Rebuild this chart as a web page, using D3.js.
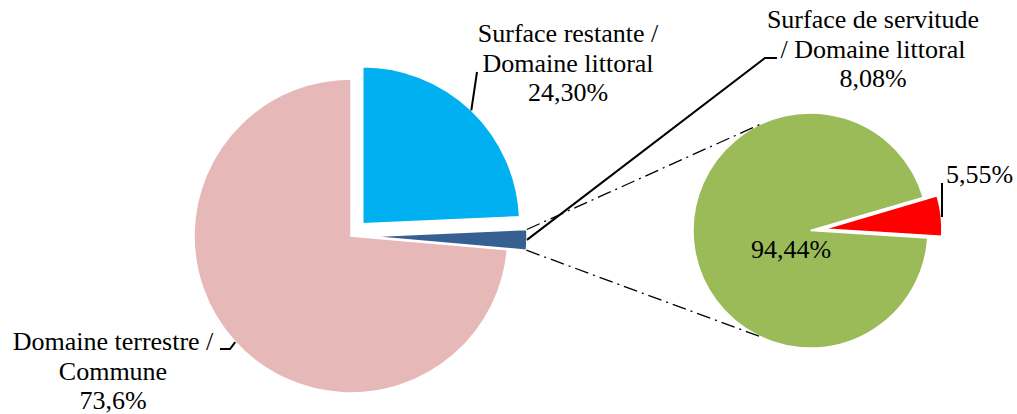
<!DOCTYPE html>
<html>
<head>
<meta charset="utf-8">
<script src="https://cdn.jsdelivr.net/npm/d3@7"></script>
<style>
  html, body { margin: 0; padding: 0; background: #fff; }
</style>
</head>
<body>
<div id="chart"></div>
<script>
// main pie (clockwise from 12 o'clock)
const mainNames = ["Surface restante / Domaine littoral", "Surface de servitude / Domaine littoral", "Domaine terrestre / Commune"];
const mainValues = [24.30, 2.1, 73.6];
const mainColors = ["#00B0F0", "#376092", "#E6B9B8"];
const mainLabels = [
    ["Surface restante /", "Domaine littoral", "24,30%"],
    ["Surface de servitude", "/ Domaine littoral", "8,08%"],
    ["Domaine terrestre /", "Commune", "73,6%"]
];

// secondary pie (breakdown of the servitude slice)
const subNames = ["vert", "rouge"];
const subValues = [94.44, 5.55];
const subColors = ["#9BBB59", "#FF0000"];
const subLabels = ["94,44%", "5,55%"];

const width = 1017, height = 414;
const rad = Math.PI / 180;
const FONT = "'Liberation Serif', 'DejaVu Serif', serif";

const svg = d3.select("#chart").append("svg")
    .attr("width", width)
    .attr("height", height);

// point on a circle, angle clockwise from 12 o'clock (radians)
function polar(c, r, a) {
    return [c[0] + r * Math.sin(a), c[1] - r * Math.cos(a)];
}

// --- main pie ---
const mainC = [351, 236], mainR = 157;
const mainExplode = [17, 19, 0];
const mainArcs = d3.pie().sort(null).startAngle(0)(mainValues);
const arcMain = d3.arc().innerRadius(0).outerRadius(mainR);

mainArcs.forEach((d, i) => {
    const mid = (d.startAngle + d.endAngle) / 2;
    d.center = polar(mainC, mainExplode[i], mid);
    d.mid = mid;
});

svg.append("g").selectAll("path")
    .data(mainArcs)
    .join("path")
    .attr("transform", d => `translate(${d.center[0]},${d.center[1]})`)
    .attr("d", arcMain)
    .attr("fill", (d, i) => mainColors[i])
    .attr("stroke", "#fff")
    .attr("stroke-width", 1.5);

// --- secondary pie ---
const subC = [810.5, 230.5], subR = 117.5;
const subExplode = [0, 14];
const subArcs = d3.pie().sort(null).startAngle(93.6 * rad).endAngle(93.6 * rad + 2 * Math.PI)(subValues);
const arcSub = d3.arc().innerRadius(0).outerRadius(subR);

subArcs.forEach((d, i) => {
    const mid = (d.startAngle + d.endAngle) / 2;
    d.center = polar(subC, subExplode[i], mid);
    d.mid = mid;
});

svg.append("g").selectAll("path")
    .data(subArcs)
    .join("path")
    .attr("transform", d => `translate(${d.center[0]},${d.center[1]})`)
    .attr("d", arcSub)
    .attr("fill", (d, i) => subColors[i])
    .attr("stroke", "#fff")
    .attr("stroke-width", 1.5);

// --- connector lines (dash-dot) between the servitude slice and the second pie ---
const dark = mainArcs[1];
const connectors = [
    [polar(dark.center, mainR, dark.startAngle), polar(subC, subR, 334.6 * rad)],
    [polar(dark.center, mainR, dark.endAngle), polar(subC, subR, 205.4 * rad)]
];
svg.append("g").selectAll("line")
    .data(connectors)
    .join("line")
    .attr("x1", d => d[0][0]).attr("y1", d => d[0][1])
    .attr("x2", d => d[1][0]).attr("y2", d => d[1][1])
    .attr("stroke", "#000")
    .attr("stroke-width", 1.3)
    .attr("stroke-dasharray", "14,5,2,5");

// --- leader lines ---
const line = d3.line();
const leaders = [
    [polar(mainArcs[0].center, mainR, mainArcs[0].mid), [477, 72]],
    [polar(mainArcs[1].center, mainR, mainArcs[1].mid), [765, 58], [777, 58]],
    [polar(mainArcs[2].center, mainR, mainArcs[2].mid), [230, 349], [220, 349]],
    [[942, 217], [942, 183]]
];
svg.append("g").selectAll("path")
    .data(leaders)
    .join("path")
    .attr("d", line)
    .attr("fill", "none")
    .attr("stroke", "#000")
    .attr("stroke-width", 2);

// --- text labels ---
const labelPos = [
    { x: 568, y: 42 },
    { x: 873, y: 28 },
    { x: 113, y: 350 }
];
const lh = 29.5;
const labels = svg.append("g")
    .attr("font-family", FONT)
    .attr("font-size", 26)
    .attr("fill", "#000");

mainLabels.forEach((lines, i) => {
    const t = labels.append("text")
        .attr("text-anchor", "middle")
        .attr("x", labelPos[i].x)
        .attr("y", labelPos[i].y);
    lines.forEach((s, j) => {
        t.append("tspan")
            .attr("x", labelPos[i].x)
            .attr("y", labelPos[i].y + j * lh)
            .text(s);
    });
});

labels.append("text")
    .attr("text-anchor", "middle")
    .attr("x", 791).attr("y", 258)
    .text(subLabels[0]);
labels.append("text")
    .attr("text-anchor", "start")
    .attr("x", 946).attr("y", 183)
    .text(subLabels[1]);
</script>
</body>
</html>
